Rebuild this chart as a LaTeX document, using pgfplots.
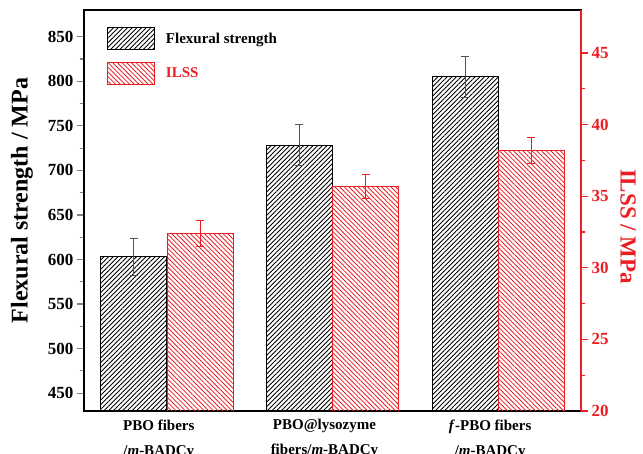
\documentclass[border=0pt]{standalone}
\usepackage{pgfplots}
\pgfplotsset{compat=1.18}
\usepackage{fontspec}
\setmainfont{Liberation Serif}
\usetikzlibrary{patterns.meta}
\definecolor{ilssred}{RGB}{235,30,35}
\definecolor{errgray}{RGB}{80,80,80}

\pgfplotsset{
  bigbox/.style={legend image code/.code={\draw[##1] (0pt,-11pt) rectangle (47pt,11pt);}},
  common/.style={
    scale only axis, width=497pt, height=401pt,
    xmin=-0.5, xmax=2.5,
    tick align=outside,
    major tick length=7pt, minor tick length=4pt,
    /pgf/number format/assume math mode=true,
    tick label style={font=\fontsize{17}{17}\selectfont\bfseries},
  },
}

\begin{document}
\begin{tikzpicture}[font=\bfseries]
\useasboundingbox (-84pt,-43pt) rectangle (559pt,411pt);
% left axis: flexural strength
\begin{axis}[common,
  ymin=430, ymax=880,
  ytick={450,500,...,850}, minor y tick num=1,
  ytick pos=left,
  xtick={0,1,2},
  xticklabels={{PBO fibers\\/\textit{m}-BADCy},{PBO@lysozyme\\fibers/\textit{m}-BADCy},{\textit{f}-PBO fibers\\/\textit{m}-BADCy}},
  xticklabel style={align=center, font=\fontsize{15}{25}\selectfont\bfseries, xshift=-8pt, yshift=2pt},
  x tick style={draw=none},
  axis line style={line width=1.2pt},
  y tick style={line width=1.2pt},
  ylabel={Flexural strength / MPa},
  ylabel style={font=\fontsize{24}{24}\selectfont\bfseries, at={(axis description cs:-0.1248,0.525)}, anchor=center},
]
\addplot[ybar, bar width=66pt, bar shift=0pt, draw=black, line width=0.9pt,
  pattern={Lines[angle=45,distance=3.3pt,line width=0.9pt]}, pattern color=black,
  error bars/.cd, y dir=both, y explicit,
  error bar style={line width=0.9pt, draw=errgray},
  error mark options={rotate=90, mark size=4pt, line width=0.9pt, draw=errgray}]
coordinates {(-0.2,603) +- (0,20.5) (0.8,728) +- (0,23) (1.8,805) +- (0,23)};
\end{axis}
% right axis: ILSS
\begin{axis}[common,
  ymin=20, ymax=48,
  axis x line=none, axis y line*=right,
  ytick={20,25,...,45}, minor y tick num=1,
  y axis line style={draw=ilssred, line width=1.2pt},
  y tick style={draw=ilssred, line width=1.2pt},
  yticklabel style={text=ilssred},
  ylabel={ILSS / MPa},
  ylabel style={font=\fontsize{23}{23}\selectfont\bfseries, text=ilssred, rotate=180, at={(axis description cs:1.0946,0.46)}, anchor=center},
  legend style={at={(axis description cs:0.046,0.9576)}, anchor=north west,
    draw=none, fill=none, inner sep=0pt, row sep=12pt,
    font=\fontsize{15}{15}\selectfont\bfseries,
    /tikz/every odd column/.append style={column sep=9pt}},
  legend cell align=left,
]
\addlegendimage{area legend, draw=black, line width=0.9pt,
  pattern={Lines[angle=45,distance=3.3pt,line width=0.9pt]}, pattern color=black, bigbox}
\addlegendentry{Flexural strength}
\addplot[ybar, bar width=66pt, bar shift=0pt, draw=ilssred, line width=0.9pt,
  pattern={Lines[angle=-45,distance=3.3pt,line width=0.8pt]}, pattern color=ilssred,
  error bars/.cd, y dir=both, y explicit,
  error bar style={line width=0.9pt, draw=ilssred},
  error mark options={rotate=90, mark size=4pt, line width=0.9pt, draw=ilssred},
  /pgfplots/.cd, area legend, bigbox]
coordinates {(0.2,32.4) +- (0,0.9) (1.2,35.7) +- (0,0.85) (2.2,38.2) +- (0,0.9)};
\addlegendentry{\textcolor{ilssred}{ILSS}}
\end{axis}
\end{tikzpicture}
\end{document}
